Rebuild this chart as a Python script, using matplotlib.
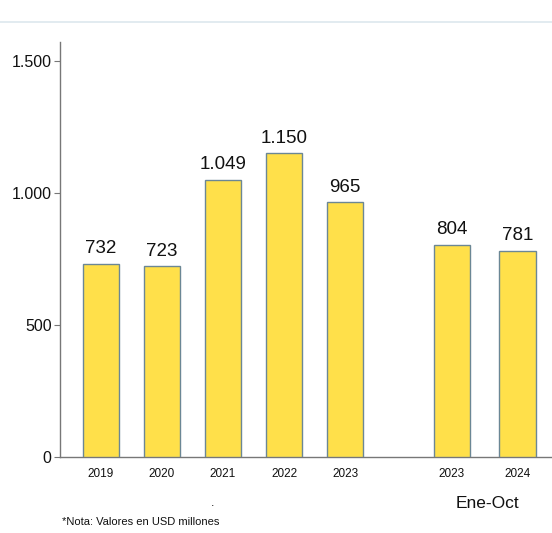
import matplotlib
matplotlib.use("Agg")
import matplotlib.pyplot as plt
from matplotlib.lines import Line2D

categories = ["2019", "2020", "2021", "2022", "2023", "2023", "2024"]
values = [732, 723, 1049, 1150, 965, 804, 781]
labels = ["732", "723", "1.049", "1.150", "965", "804", "781"]
positions = [0, 1, 2, 3, 4, 5.75, 6.82]
yticks = [0, 500, 1000, 1500]
ytick_labels = ["0", "500", "1.000", "1.500"]

plt.rcParams['font.family'] = ['Liberation Sans', 'DejaVu Sans']

fig = plt.figure(figsize=(5.52, 5.33), dpi=100)
ax = fig.add_axes([60/552, 76/533, 1 - 60/552, 415/533])

ax.bar(positions, values, width=0.6, color="#FFE04A", edgecolor="#6B8795", linewidth=1.0, zorder=3)
for x, v, l in zip(positions, values, labels):
    ax.text(x, v + 25, l, ha="center", va="bottom", fontsize=13.5, color="#111111")

ax.set_xlim(-0.67, 7.39)
ax.set_ylim(0, 1572)
ax.set_yticks(yticks)
ax.set_yticklabels(ytick_labels, fontsize=11.5, color="#111111")
ax.set_xticks(positions)
ax.set_xticklabels(categories, fontsize=8.5, color="#111111")
ax.tick_params(axis="x", length=0, pad=8)
ax.tick_params(axis="y", length=4, color="#777777", direction="out", pad=2)
for s in ["top", "right"]:
    ax.spines[s].set_visible(False)
for s in ["left", "bottom"]:
    ax.spines[s].set_color("#777777")
    ax.spines[s].set_linewidth(1.0)

fig.text(487/552, 1 - 503/533, "Ene-Oct", ha="center", va="center", fontsize=12.5, color="#111111")
fig.text(213/552, 1 - 503/533, ".", ha="center", va="center", fontsize=9, color="#111111")
fig.text(62/552, 1 - 522/533, "*Nota: Valores en USD millones", ha="left", va="center", fontsize=8, color="#111111")
fig.add_artist(Line2D([0, 1], [1 - 22/533, 1 - 22/533], transform=fig.transFigure, color="#DDE8EE", linewidth=1.2))

fig.savefig("out.png", dpi=100)
